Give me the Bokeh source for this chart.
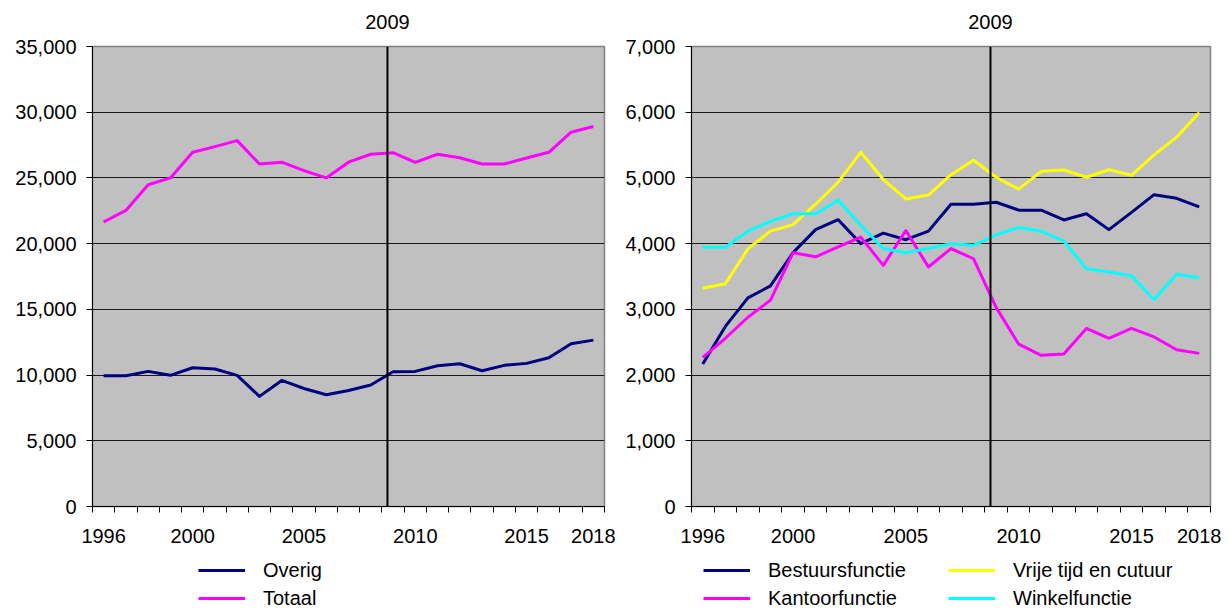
from bokeh.plotting import figure
from bokeh.models import (Range1d, FixedTicker, NumeralTickFormatter, LinearAxis,
                          Span, Legend, LegendItem, CustomJSTickFormatter)
from bokeh.layouts import row, column
from bokeh.embed import file_html
from bokeh.resources import INLINE

# ---------------- data ----------------
years = list(range(1996, 2019))
label_years = [1996, 2000, 2005, 2010, 2015, 2018]
marker_year = 2009
marker_pos = 2008.75

overig = [9950, 9950, 10280, 9980, 10560, 10460, 9980, 8380, 9590, 8980, 8500, 8830,
          9240, 10250, 10280, 10710, 10860, 10330, 10740, 10890, 11320, 12390, 12660]
totaal = [21650, 22530, 24480, 25000, 26950, 27380, 27840, 26060, 26200, 25560, 25000, 26200,
          26800, 26920, 26190, 26800, 26540, 26060, 26060, 26520, 26950, 28480, 28910]

bestuurs = [2170, 2740, 3175, 3357, 3863, 4213, 4365, 4000, 4160, 4060, 4190, 4600,
            4600, 4630, 4510, 4510, 4360, 4455, 4213, 4475, 4745, 4690, 4560]
kantoor = [2270, 2560, 2880, 3140, 3860, 3800, 3950, 4100, 3670, 4200, 3645, 3925,
           3770, 3030, 2470, 2300, 2320, 2710, 2560, 2710, 2580, 2385, 2330]
vrije = [3320, 3390, 3920, 4190, 4290, 4600, 4935, 5390, 4975, 4680, 4740, 5050,
         5270, 5010, 4830, 5100, 5120, 5010, 5125, 5040, 5350, 5620, 5995]
winkel = [3945, 3945, 4190, 4340, 4455, 4455, 4660, 4280, 3925, 3860, 3925, 4000,
          3975, 4135, 4245, 4190, 4040, 3620, 3570, 3510, 3150, 3535, 3480]

left_series = [("Overig", overig, "#000080"), ("Totaal", totaal, "#FF00FF")]
right_series = [("Bestuursfunctie", bestuurs, "#000080"), ("Kantoorfunctie", kantoor, "#FF00FF"),
                ("Vrije tijd en cutuur", vrije, "#FFFF00"), ("Winkelfunctie", winkel, "#00FFFF")]

left_ticks = list(range(0, 35001, 5000))
right_ticks = list(range(0, 7001, 1000))

FONT = "Liberation Sans"
FS = "20px"
CHART_H = 556
LEGEND_H = 610 - CHART_H


def make_fig(width, ymax, yticks, bl, br):
    p = figure(width=width, height=CHART_H, output_backend="svg", toolbar_location=None,
               x_range=Range1d(1995.5, 2018.5), y_range=Range1d(0, ymax),
               min_border_left=bl, min_border_right=br, min_border_top=46, min_border_bottom=50,
               background_fill_color="#C0C0C0", border_fill_color="white",
               outline_line_color="#808080", outline_line_width=1.5)
    p.xaxis.ticker = FixedTicker(ticks=label_years,
                                 minor_ticks=[y - 0.5 for y in years] + [years[-1] + 0.5])
    p.xaxis.major_tick_out = 0
    p.xaxis.major_tick_in = 0
    p.xaxis.minor_tick_out = 6
    p.xaxis.minor_tick_in = 0
    p.xaxis.minor_tick_line_color = "black"
    p.xaxis.major_label_standoff = 16
    p.yaxis.ticker = FixedTicker(ticks=yticks)
    p.yaxis.formatter = NumeralTickFormatter(format="0,0")
    p.yaxis.major_tick_out = 6
    p.yaxis.major_tick_in = 0
    p.yaxis.minor_tick_line_color = None
    p.yaxis.major_label_standoff = 10
    for ax in (p.xaxis, p.yaxis):
        ax.axis_line_color = "black"
        ax.major_tick_line_color = "black"
        ax.major_label_text_font = FONT
        ax.major_label_text_font_size = FS
        ax.major_label_text_color = "black"
    p.xgrid.grid_line_color = None
    p.ygrid.grid_line_color = "#1a1a1a"
    p.ygrid.grid_line_width = 1
    p.ygrid.ticker = FixedTicker(ticks=yticks)

    top = LinearAxis(ticker=FixedTicker(ticks=[marker_pos]),
                     formatter=CustomJSTickFormatter(code="return '%d';" % marker_year),
                     axis_line_color=None, major_tick_line_color=None,
                     minor_tick_line_color=None, major_tick_out=0, major_tick_in=0,
                     major_label_standoff=18, major_label_text_font=FONT,
                     major_label_text_font_size=FS, major_label_text_color="black")
    p.add_layout(top, "above")
    p.add_layout(Span(location=marker_pos, dimension="height", line_color="black", line_width=2))
    return p


def make_legend_fig(width, series, x, label_width):
    # legend strip under a chart; its sample renderers are hidden
    lf = figure(width=width, height=LEGEND_H, output_backend="svg", toolbar_location=None,
                x_axis_type=None, y_axis_type=None, min_border=0,
                x_range=Range1d(0, 1), y_range=Range1d(0, 1),
                outline_line_color=None, background_fill_color="white",
                border_fill_color="white")
    lf.xgrid.grid_line_color = None
    lf.ygrid.grid_line_color = None
    items = []
    for name, vals, color in series:
        r = lf.line(years, vals, line_color=color, line_width=3, visible=False)
        items.append(LegendItem(label=name, renderers=[r]))
    leg = Legend(items=items, location=(x, 0), orientation="vertical", nrows=2,
                 glyph_width=47, glyph_height=24, label_height=24, label_width=label_width,
                 label_standoff=18, spacing=4, padding=0, margin=0,
                 border_line_color=None, background_fill_alpha=0,
                 label_text_font=FONT, label_text_font_size=FS, label_text_color="black")
    lf.add_layout(leg, "center")
    return lf


# ---------------- left chart ----------------
p1 = make_fig(620, 35000, left_ticks, 92, 16)
for name, vals, color in left_series:
    p1.line(years, vals, line_color=color, line_width=3, line_join="round")
l1 = make_legend_fig(620, left_series, 106, 20)

# ---------------- right chart ----------------
p2 = make_fig(609, 7000, right_ticks, 71, 19)
for name, vals, color in right_series:
    p2.line(years, vals, line_color=color, line_width=3, line_join="round")
l2 = make_legend_fig(609, right_series, 12, 176)

layout = row(column(p1, l1), column(p2, l2))
open("out.html", "w").write(file_html(layout, INLINE))
